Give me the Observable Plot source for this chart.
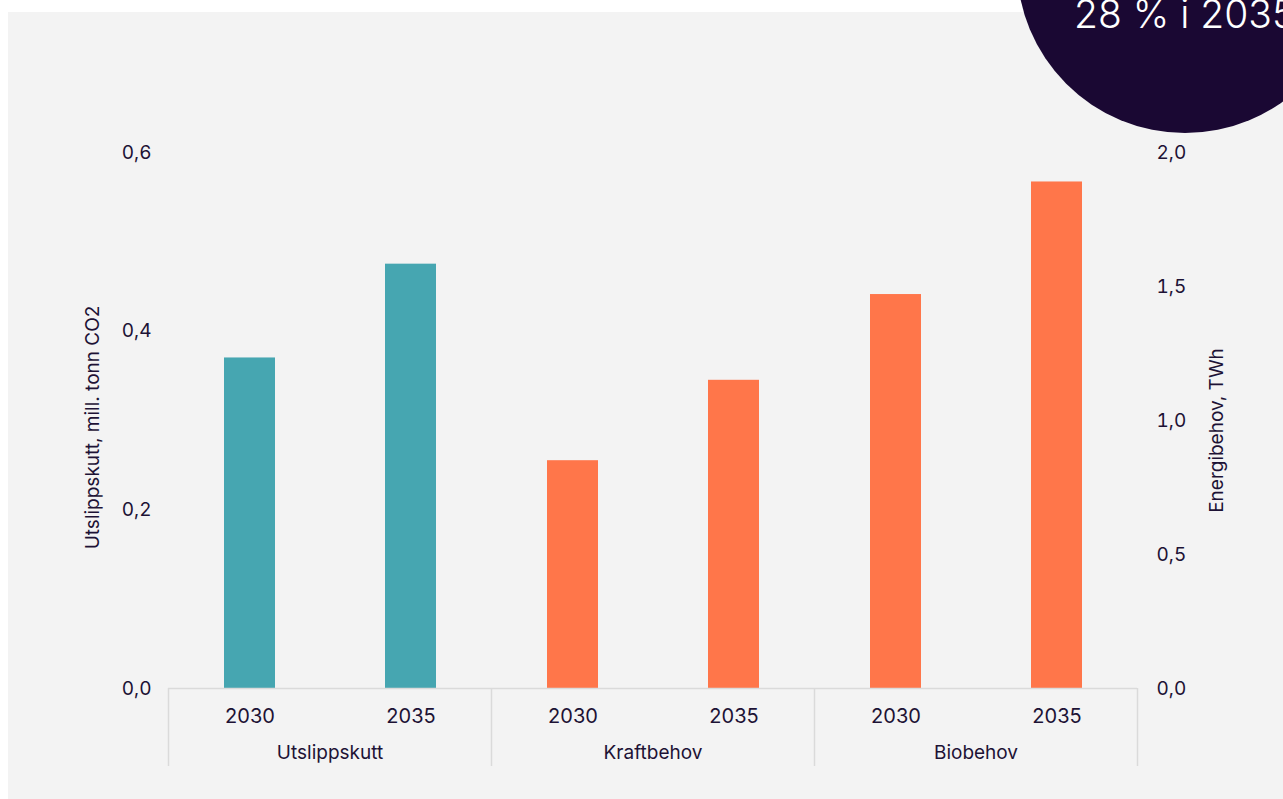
<!DOCTYPE html>
<html>
<head>
<meta charset="utf-8">
<script src="https://cdn.jsdelivr.net/npm/d3@7"></script>
<script src="https://cdn.jsdelivr.net/npm/@observablehq/plot@0.6"></script>
<style>
  body { margin: 0; background: #ffffff; }
  #wrap { position: relative; width: 1283px; height: 799px; overflow: hidden; background: #ffffff; font-family: Inter, sans-serif; }
  #panel { position: absolute; left: 8px; top: 12px; right: 0; bottom: 0; background: #f3f3f3; }
  #chart { position: absolute; left: 0; top: 0; }
  #badge { position: absolute; left: 1017px; top: -203px; width: 336px; height: 336px; border-radius: 50%; background: #1a0833; }
  #badgeText { position: absolute; left: 1074px; top: -6px; color: #ffffff; font-size: 39px; line-height: 1; font-weight: 300; white-space: nowrap; }
</style>
</head>
<body>
<div id="wrap">
  <div id="panel"></div>
  <div id="chart"></div>
  <div id="badge"></div>
  <div id="badgeText"></div>
</div>
<script>
const categories = ["Utslippskutt", "Kraftbehov", "Biobehov"];
const years = ["2030", "2035"];
const utslippskutt = [0.37, 0.475];   // mill. tonn CO2 (venstre akse)
const kraftbehov = [0.85, 1.15];      // TWh (høyre akse)
const biobehov = [1.47, 1.89];        // TWh (høyre akse)
const leftTicks = [0, 0.2, 0.4, 0.6];
const rightTicks = [0, 0.5, 1.0, 1.5, 2.0];
const leftLabel = "Utslippskutt, mill. tonn CO2";
const rightLabel = "Energibehov, TWh";
const badgeText = "28 % i 2035";

document.getElementById("badgeText").textContent = badgeText;

const leftMax = leftTicks[leftTicks.length - 1];
const rightMax = rightTicks[rightTicks.length - 1];
const ratio = leftMax / rightMax;

const rows = [];
years.forEach((yr, i) => rows.push({category: categories[0], year: yr, value: utslippskutt[i], scaled: utslippskutt[i]}));
years.forEach((yr, i) => rows.push({category: categories[1], year: yr, value: kraftbehov[i], scaled: kraftbehov[i] * ratio}));
years.forEach((yr, i) => rows.push({category: categories[2], year: yr, value: biobehov[i], scaled: biobehov[i] * ratio}));

const fmt = d => d3.format(".1f")(d).replace(".", ",");
const textColor = "#1d1235";
const gridColor = "#dadada";

const plot = Plot.plot({
  width: 1283,
  height: 799,
  marginLeft: 167,
  marginRight: 145,
  marginTop: 152,
  marginBottom: 111,
  style: {background: "transparent", fontFamily: "Inter, sans-serif", fontSize: "19px", color: textColor},
  fx: {domain: categories, padding: 0, label: null},
  x: {domain: years, paddingInner: 0.685, paddingOuter: 0.3425, label: null},
  y: {domain: [0, leftMax], label: null},
  color: {domain: categories, range: ["#46a6b1", "#ff764a", "#ff764a"]},
  marks: [
    Plot.barY(rows, {fx: "category", x: "year", y: "scaled", fill: "category"}),
    Plot.ruleY([0], {stroke: gridColor, strokeWidth: 1.5}),
    Plot.axisY(leftTicks, {anchor: "left", tickSize: 0, tickPadding: 17, tickFormat: fmt, label: null}),
    Plot.axisY(rightTicks.map(t => t * ratio), {anchor: "right", tickSize: 0, tickPadding: 19, tickFormat: (d, i) => fmt(rightTicks[i]), label: null}),
    Plot.axisX({tickSize: 0, tickPadding: 20, label: null, fontSize: 20}),
    Plot.axisFx({anchor: "bottom", tickSize: 0, tickPadding: 57, label: null, fontSize: 19}),
    Plot.text([leftLabel], {fx: () => categories[0], text: d => d, frameAnchor: "left", textAnchor: "middle", rotate: -90, dx: -76, dy: 7, fill: textColor, fontSize: 19}),
    Plot.text([rightLabel], {fx: () => categories[categories.length - 1], text: d => d, frameAnchor: "right", textAnchor: "middle", rotate: -90, dx: 79, dy: 10, fill: textColor, fontSize: 19})
  ]
});

// Group separators below the baseline, positioned with the plot's own fx / y scales
const fxS = plot.scale("fx");
const yS = plot.scale("y");
const y0 = yS.apply(0);
const bounds = categories.map(c => fxS.apply(c));
bounds.push(fxS.apply(categories[categories.length - 1]) + fxS.bandwidth);
d3.select(plot).append("g")
  .selectAll("line").data(bounds).join("line")
  .attr("x1", d => Math.round(d) + 0.5).attr("x2", d => Math.round(d) + 0.5)
  .attr("y1", y0).attr("y2", y0 + 78)
  .attr("stroke", gridColor).attr("stroke-width", 1.5);

document.getElementById("chart").appendChild(plot);
</script>
</body>
</html>
